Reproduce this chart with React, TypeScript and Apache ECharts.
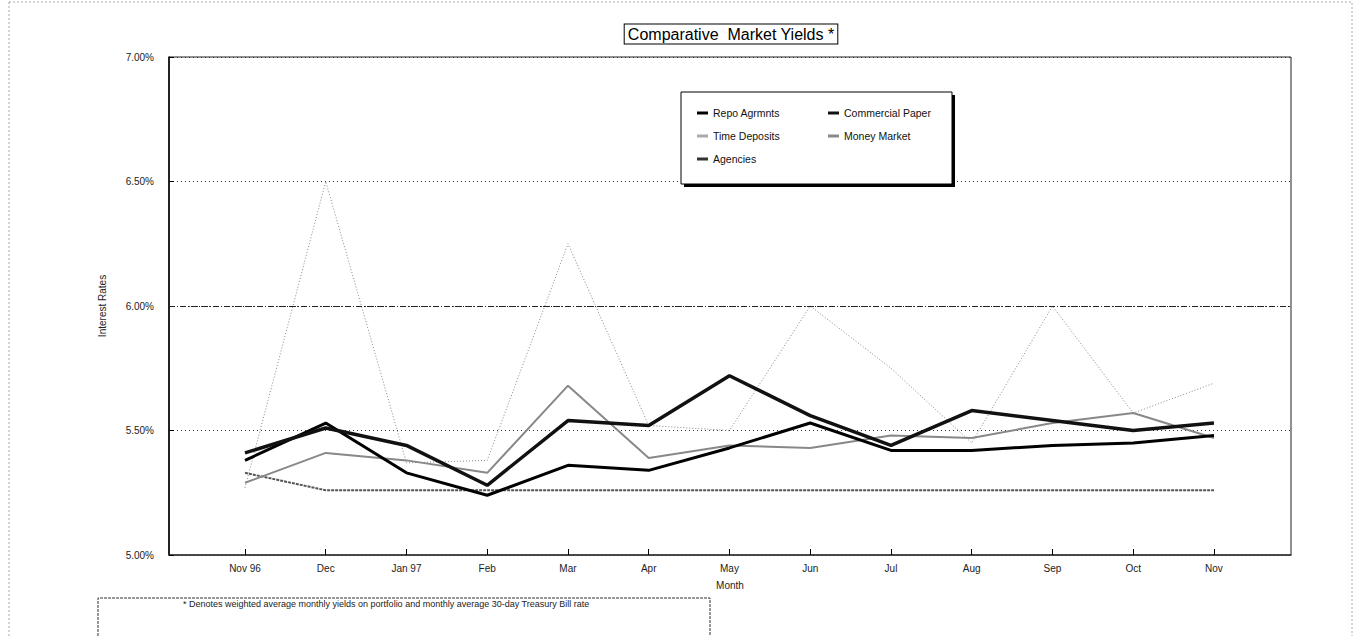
import React, { useEffect, useRef } from "react";
import * as echarts from "echarts";

const months = ["Nov 96", "Dec", "Jan 97", "Feb", "Mar", "Apr", "May", "Jun", "Jul", "Aug", "Sep", "Oct", "Nov"];
const repoAgrmnts = [5.38, 5.53, 5.33, 5.24, 5.36, 5.34, 5.43, 5.53, 5.42, 5.42, 5.44, 5.45, 5.48];
const commercialPaper = [5.41, 5.51, 5.44, 5.28, 5.54, 5.52, 5.72, 5.56, 5.44, 5.58, 5.54, 5.50, 5.53];
const timeDeposits = [5.27, 6.50, 5.37, 5.38, 6.25, 5.52, 5.50, 6.00, 5.75, 5.45, 6.00, 5.57, 5.69];
const moneyMarket = [5.29, 5.41, 5.38, 5.33, 5.68, 5.39, 5.44, 5.43, 5.48, 5.47, 5.53, 5.57, 5.47];
const agencies = [5.33, 5.26, 5.26, 5.26, 5.26, 5.26, 5.26, 5.26, 5.26, 5.26, 5.26, 5.26, 5.26];
const yTicks = [5.0, 5.5, 6.0, 6.5, 7.0];

const FONT = "'Liberation Sans', Arial, sans-serif";

const pairs = (arr: number[]) => arr.map((v, i) => [i, v]);

export default function App() {
  const ref = useRef<HTMLDivElement>(null);
  useEffect(() => {
    if (!ref.current) return;
    const chart = echarts.init(ref.current, undefined, { renderer: "svg" });
    const idx = months.map((_, i) => i);
    const legendText = { fontSize: 10.5, color: "#111", fontFamily: FONT, lineHeight: 12 };
    const legendCommon = {
      orient: "vertical",
      top: 107,
      padding: 0,
      itemWidth: 11,
      itemHeight: 3,
      itemGap: 11,
      icon: "rect",
      textStyle: legendText,
      z: 20,
    };
    chart.setOption({
      animation: false,
      backgroundColor: "#fff",
      grid: { left: 169, right: 67, top: 57, bottom: 81, show: true, borderColor: "#222", borderWidth: 1 },
      xAxis: {
        type: "value",
        min: -0.941,
        max: 12.954,
        axisLine: { show: true, onZero: false, lineStyle: { color: "#333", width: 1.5 } },
        axisTick: { show: true, inside: true, length: 6, customValues: idx, lineStyle: { color: "#000" } },
        axisLabel: {
          customValues: idx,
          formatter: (v: number) => months[Math.round(v)] ?? "",
          fontSize: 10,
          color: "#222",
          fontFamily: FONT,
          margin: 8,
        },
        splitLine: { show: false },
        name: "Month",
        nameLocation: "middle",
        nameGap: 25,
        nameTextStyle: { fontSize: 10, color: "#222", fontFamily: FONT },
      },
      yAxis: {
        type: "value",
        min: 5,
        max: 7,
        interval: 0.5,
        axisLine: { show: true, onZero: false, lineStyle: { color: "#000", width: 1.5 } },
        axisTick: { show: true, inside: true, length: 5, lineStyle: { color: "#000" } },
        axisLabel: {
          customValues: yTicks,
          formatter: (v: number) => v.toFixed(2) + "%",
          fontSize: 10,
          color: "#222",
          fontFamily: FONT,
          margin: 15,
        },
        splitLine: { show: true, lineStyle: { type: [1, 3], color: "#333", width: 1 } },
        name: "Interest Rates",
        nameLocation: "middle",
        nameGap: 62,
        nameRotate: 90,
        nameTextStyle: { fontSize: 10, color: "#222", fontFamily: FONT },
      },
      legend: [
        { ...legendCommon, data: ["Repo Agrmnts", "Time Deposits", "Agencies"], left: 697 },
        { ...legendCommon, data: ["Commercial Paper", "Money Market"], left: 828 },
      ],
      graphic: [
        { type: "rect", z: 10, shape: { x: 684, y: 95, width: 271, height: 92 }, style: { fill: "#000" } },
        { type: "rect", z: 11, shape: { x: 681, y: 92, width: 271, height: 92 }, style: { fill: "#fff", stroke: "#000", lineWidth: 1 } },
        {
          type: "text",
          z: 12,
          x: 731,
          y: 34,
          style: {
            text: "Comparative  Market Yields *",
            font: "16px 'Liberation Sans', Arial, sans-serif",
            fill: "#000",
            align: "center",
            verticalAlign: "middle",
            borderColor: "#000",
            borderWidth: 1,
            padding: [2, 3, 1, 3],
            backgroundColor: "#fff",
          },
        },
        {
          type: "polyline",
          z: 12,
          shape: { points: [[98, 640], [98, 598], [710, 598], [710, 640]] },
          style: { fill: "none", stroke: "#333", lineWidth: 1, lineDash: [3, 1] },
        },
        {
          type: "text",
          z: 12,
          x: 183,
          y: 604,
          style: {
            text: "* Denotes weighted average monthly yields on portfolio and monthly average 30-day Treasury Bill rate",
            font: "9px 'Liberation Sans', Arial, sans-serif",
            fill: "#222",
            verticalAlign: "middle",
          },
        },
        {
          type: "rect",
          z: 1,
          shape: { x: 9, y: 2, width: 1343, height: 640 },
          style: { fill: "none", stroke: "#aaa", lineWidth: 1, lineDash: [2, 2] },
        },
      ],
      series: [
        {
          name: "Time Deposits",
          type: "line",
          data: pairs(timeDeposits),
          symbol: "none",
          lineStyle: { color: "#888", width: 1, type: [1, 2] },
          itemStyle: { color: "#aaa" },
          z: 2,
        },
        {
          name: "Agencies",
          type: "line",
          data: pairs(agencies),
          symbol: "none",
          lineStyle: { color: "#555", width: 2, type: [3, 1] },
          itemStyle: { color: "#333" },
          z: 3,
          markLine: {
            silent: true,
            symbol: "none",
            label: { show: false },
            lineStyle: { type: [6, 2, 1, 2], color: "#222", width: 1 },
            data: [{ yAxis: 6 }],
          },
        },
        {
          name: "Money Market",
          type: "line",
          data: pairs(moneyMarket),
          symbol: "none",
          lineStyle: { color: "#888", width: 2 },
          itemStyle: { color: "#888" },
          z: 4,
        },
        {
          name: "Repo Agrmnts",
          type: "line",
          data: pairs(repoAgrmnts),
          symbol: "none",
          lineStyle: { color: "#000", width: 3 },
          itemStyle: { color: "#000" },
          z: 5,
        },
        {
          name: "Commercial Paper",
          type: "line",
          data: pairs(commercialPaper),
          symbol: "none",
          lineStyle: { color: "#111", width: 3.5 },
          itemStyle: { color: "#111" },
          z: 6,
        },
      ],
    });
    return () => chart.dispose();
  }, []);
  return (
    <div
      ref={ref}
      style={{ position: "fixed", left: 0, top: 0, width: 1358, height: 636, background: "#fff" }}
    />
  );
}
